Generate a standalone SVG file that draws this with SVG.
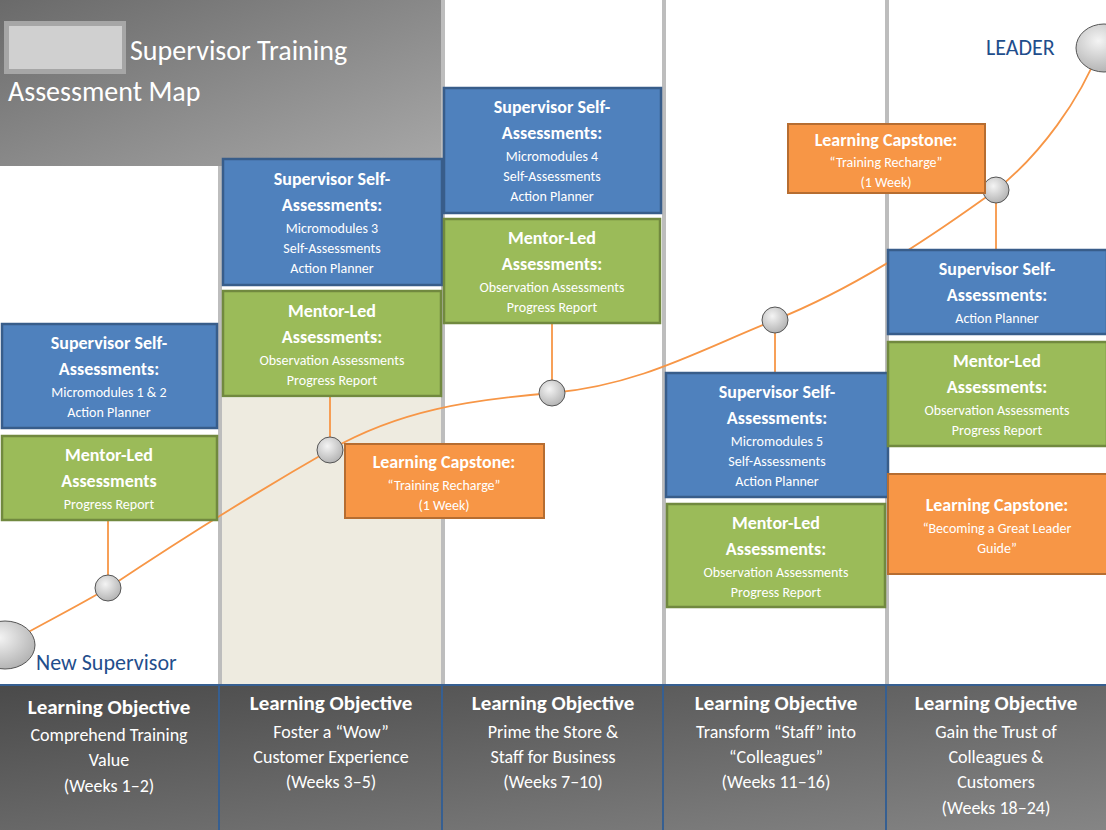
<svg xmlns="http://www.w3.org/2000/svg" width="1106" height="830" viewBox="0 0 1106 830">
<style>
text{font-family:Calibri,"Open Sans","Liberation Sans",sans-serif;text-anchor:middle;fill:#fff}
.h{font-weight:bold;font-size:18px}.b{font-size:14px}
.blue{fill:#4f81bd;stroke:#385d8a;stroke-width:2.5}
.green{fill:#9bbb59;stroke:#71893f;stroke-width:2.5}
.orange{fill:#f79646;stroke:#b66d31;stroke-width:2}
.lo{font-weight:bold;font-size:21px}.lb{font-size:18px}
.dot{fill:url(#dg);stroke:#555;stroke-width:1}
</style>
<defs>
<linearGradient id="tg" x1="0" y1="0" x2="1" y2="1"><stop offset="0" stop-color="#6a6a6a"/><stop offset="1" stop-color="#a8a8a8"/></linearGradient>
<linearGradient id="bg" x1="0" y1="0" x2="1" y2="1"><stop offset="0" stop-color="#4a4a4a"/><stop offset="1" stop-color="#858585"/></linearGradient>
<radialGradient id="dg" cx="0.4" cy="0.35" r="0.7"><stop offset="0" stop-color="#f4f4f4"/><stop offset="1" stop-color="#b0b0b0"/></radialGradient>
</defs>
<rect width="1106" height="830" fill="#fff"/>
<rect x="0" y="0" width="441" height="166" fill="url(#tg)"/>
<rect x="220" y="398" width="221" height="287" fill="#eeebe0"/>
<g fill="#bdbdbd">
<rect x="218" y="166" width="4" height="519"/><rect x="441" y="0" width="4" height="685"/>
<rect x="662" y="0" width="4" height="685"/><rect x="885" y="0" width="4" height="685"/>
</g>
<rect x="4" y="21" width="122" height="53" fill="#a6a6a6"/><rect x="9" y="26" width="113" height="43" fill="#d0d0d0"/>
<text x="130" y="60" style="text-anchor:start;font-size:28px">Supervisor Training</text>
<text x="8" y="101" style="text-anchor:start;font-size:28px">Assessment Map</text>
<g id="bottom">
<rect x="0" y="685" width="1106" height="145" fill="url(#bg)"/>
<g stroke="#365f91" stroke-width="2"><line x1="0" y1="685" x2="1106" y2="685"/><line x1="219" y1="685" x2="219" y2="830"/><line x1="442" y1="685" x2="442" y2="830"/><line x1="663" y1="685" x2="663" y2="830"/><line x1="886" y1="685" x2="886" y2="830"/></g>
<text x="109" y="714" class="lo">Learning Objective</text><text x="109" y="741" class="lb">Comprehend Training</text><text x="109" y="766" class="lb">Value</text><text x="109" y="792" class="lb">(Weeks 1–2)</text>
<text x="331" y="710" class="lo">Learning Objective</text><text x="331" y="738" class="lb">Foster a “Wow”</text><text x="331" y="763" class="lb">Customer Experience</text><text x="331" y="788" class="lb">(Weeks 3–5)</text>
<text x="553" y="710" class="lo">Learning Objective</text><text x="553" y="738" class="lb">Prime the Store &amp;</text><text x="553" y="763" class="lb">Staff for Business</text><text x="553" y="788" class="lb">(Weeks 7–10)</text>
<text x="776" y="710" class="lo">Learning Objective</text><text x="776" y="738" class="lb">Transform “Staff” into</text><text x="776" y="763" class="lb">“Colleagues”</text><text x="776" y="788" class="lb">(Weeks 11–16)</text>
<text x="996" y="710" class="lo">Learning Objective</text><text x="996" y="738" class="lb">Gain the Trust of</text><text x="996" y="763" class="lb">Colleagues &amp;</text><text x="996" y="788" class="lb">Customers</text><text x="996" y="814" class="lb">(Weeks 18–24)</text>
</g>
<g id="connectors" stroke="#f79646" stroke-width="1.8" fill="none">
<path d="M5,645 C40,625 80,605 108,588 C180,540 260,490 330,450 C400,410 470,400 552,393 C640,385 700,350 775,320 C850,290 920,245 996,190 C1040,155 1080,100 1100,48"/>
<line x1="108" y1="520" x2="108" y2="588"/><line x1="330" y1="396" x2="330" y2="450"/><line x1="552" y1="323" x2="552" y2="393"/><line x1="775" y1="320" x2="775" y2="373"/><line x1="996" y1="190" x2="996" y2="250"/>
</g>
<g id="dots">
<ellipse cx="5" cy="645" rx="30" ry="24" class="dot"/>
<circle cx="108" cy="588" r="13" class="dot"/><circle cx="330" cy="450" r="13" class="dot"/><circle cx="552" cy="393" r="13" class="dot"/><circle cx="775" cy="320" r="13" class="dot"/><circle cx="996" cy="190" r="13" class="dot"/>
<ellipse cx="1104" cy="48" rx="28" ry="24" class="dot"/>
</g>
<text x="36" y="670" style="text-anchor:start;font-size:22px;fill:#1f4e8c">New Supervisor</text>
<text x="986" y="55" style="text-anchor:start;font-size:22px;fill:#1f4e8c">LEADER</text>
<g id="c1-self"><rect x="2" y="324" width="215" height="104" class="blue"/><text x="109" y="349" class="h">Supervisor Self-</text><text x="109" y="375" class="h">Assessments:</text><text x="109" y="397" class="b">Micromodules 1 &amp; 2</text><text x="109" y="417" class="b">Action Planner</text></g>
<g id="c1-mentor"><rect x="2" y="436" width="215" height="84" class="green"/><text x="109" y="461" class="h">Mentor-Led</text><text x="109" y="487" class="h">Assessments</text><text x="109" y="509" class="b">Progress Report</text></g>
<g id="c2-self"><rect x="223" y="159" width="219" height="126" class="blue"/><text x="332" y="185" class="h">Supervisor Self-</text><text x="332" y="211" class="h">Assessments:</text><text x="332" y="233" class="b">Micromodules 3</text><text x="332" y="253" class="b">Self-Assessments</text><text x="332" y="273" class="b">Action Planner</text></g>
<g id="c2-mentor"><rect x="223" y="291" width="218" height="105" class="green"/><text x="332" y="317" class="h">Mentor-Led</text><text x="332" y="343" class="h">Assessments:</text><text x="332" y="365" class="b">Observation Assessments</text><text x="332" y="385" class="b">Progress Report</text></g>
<g id="c2-cap"><rect x="345" y="444" width="199" height="74" class="orange"/><text x="444" y="468" class="h">Learning Capstone:</text><text x="444" y="490" class="b">“Training Recharge”</text><text x="444" y="510" class="b">(1 Week)</text></g>
<g id="c3-self"><rect x="444" y="88" width="217" height="125" class="blue"/><text x="552" y="113" class="h">Supervisor Self-</text><text x="552" y="139" class="h">Assessments:</text><text x="552" y="161" class="b">Micromodules 4</text><text x="552" y="181" class="b">Self-Assessments</text><text x="552" y="201" class="b">Action Planner</text></g>
<g id="c3-mentor"><rect x="444" y="219" width="216" height="104" class="green"/><text x="552" y="244" class="h">Mentor-Led</text><text x="552" y="270" class="h">Assessments:</text><text x="552" y="292" class="b">Observation Assessments</text><text x="552" y="312" class="b">Progress Report</text></g>
<g id="c4-self"><rect x="666" y="373" width="222" height="124" class="blue"/><text x="777" y="398" class="h">Supervisor Self-</text><text x="777" y="424" class="h">Assessments:</text><text x="777" y="446" class="b">Micromodules 5</text><text x="777" y="466" class="b">Self-Assessments</text><text x="777" y="486" class="b">Action Planner</text></g>
<g id="c4-mentor"><rect x="667" y="504" width="218" height="103" class="green"/><text x="776" y="529" class="h">Mentor-Led</text><text x="776" y="555" class="h">Assessments:</text><text x="776" y="577" class="b">Observation Assessments</text><text x="776" y="597" class="b">Progress Report</text></g>
<g id="c5-cap1"><rect x="788" y="124" width="197" height="69" class="orange"/><text x="886" y="146" class="h">Learning Capstone:</text><text x="886" y="167" class="b">“Training Recharge”</text><text x="886" y="187" class="b">(1 Week)</text></g>
<g id="c5-self"><rect x="888" y="250" width="219" height="84" class="blue"/><text x="997" y="275" class="h">Supervisor Self-</text><text x="997" y="301" class="h">Assessments:</text><text x="997" y="323" class="b">Action Planner</text></g>
<g id="c5-mentor"><rect x="888" y="342" width="219" height="104" class="green"/><text x="997" y="367" class="h">Mentor-Led</text><text x="997" y="393" class="h">Assessments:</text><text x="997" y="415" class="b">Observation Assessments</text><text x="997" y="435" class="b">Progress Report</text></g>
<g id="c5-cap2"><rect x="888" y="474" width="219" height="100" class="orange"/><text x="997" y="511" class="h">Learning Capstone:</text><text x="997" y="533" class="b">“Becoming a Great Leader</text><text x="997" y="553" class="b">Guide”</text></g>
</svg>
